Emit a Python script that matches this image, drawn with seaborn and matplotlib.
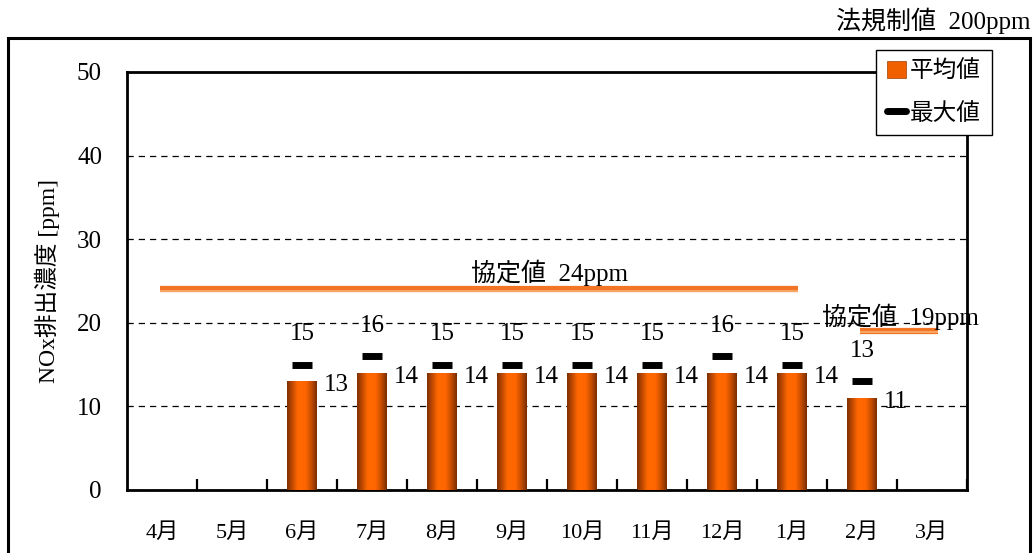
import numpy as np
import pandas as pd
import matplotlib
matplotlib.use("Agg")
import matplotlib.pyplot as plt
import seaborn as sns
from matplotlib.colors import LinearSegmentedColormap
from matplotlib.patches import Patch, Rectangle
from matplotlib.lines import Line2D

# ---- data ----
months = ["4月", "5月", "6月", "7月", "8月", "9月", "10月", "11月", "12月", "1月", "2月", "3月"]
data_months = ["6月", "7月", "8月", "9月", "10月", "11月", "12月", "1月", "2月"]
avg_values = [13, 14, 14, 14, 14, 14, 14, 14, 11]
max_values = [15, 16, 15, 15, 15, 15, 16, 15, 13]
agreement_values = [24, 19]
agreement_spans = [("4月", "1月"), ("2月", "3月")]
agreement_labels = ["協定値  24ppm", "協定値  19ppm"]
legal_limit_label = "法規制値  200ppm"
y_ticks = [0, 10, 20, 30, 40, 50]

sns.set_theme(style="white")
plt.rcParams["font.family"] = ["Liberation Serif", "Noto Sans CJK JP"]
plt.rcParams["axes.unicode_minus"] = False
for key in ["text.color", "axes.labelcolor", "xtick.color", "ytick.color"]:
    plt.rcParams[key] = "black"

fig = plt.figure(figsize=(10.36, 5.53), dpi=100)
ax = fig.add_axes([127 / 1036, 1 - 490 / 553, (967 - 127) / 1036, (490 - 72) / 553])

df = pd.DataFrame({"month": data_months, "avg": avg_values, "max": max_values})
pos = {m: i for i, m in enumerate(months)}
df["x"] = df["month"].map(pos)

sns.barplot(data=df, x="month", y="avg", order=months, color="#FF6600",
            width=0.42, ax=ax, zorder=3, edgecolor="none")

# cylindrical shading on each bar
cmap = LinearSegmentedColormap.from_list(
    "bar_shade",
    [(0.0, "#7E3000"), (0.15, "#B84600"), (0.35, "#FF6800"),
     (0.62, "#FF6600"), (0.82, "#C44C00"), (1.0, "#7A2E00")])
grad = np.linspace(0, 1, 64).reshape(1, -1)
for p in ax.patches:
    x0, y0 = p.get_x(), p.get_y()
    w, h = p.get_width(), p.get_height()
    if not np.isfinite(h) or h == 0:
        continue
    im = ax.imshow(grad, cmap=cmap, aspect="auto", extent=(x0, x0 + w, y0, y0 + h),
                   zorder=3.5, interpolation="bilinear")
    im.set_clip_path(p)

# maximum markers
ax.plot(df["x"], df["max"], ls="none", marker="_", ms=14.5, mew=5,
        color="black", zorder=4)

# value labels
for xi, a, m in zip(df["x"], df["avg"], df["max"]):
    ax.annotate(f"{m}", (xi, m), xytext=(0, 22), textcoords="offset points",
                ha="center", va="center", fontsize=18, zorder=5)
    ax.annotate(f"{a}", (xi + 0.21, a), xytext=(5, -3), textcoords="offset points",
                ha="left", va="center", fontsize=18, zorder=5)

# agreement limits
for val, (m0, m1) in zip(agreement_values, agreement_spans):
    xs = [pos[m0] - 0.03, pos[m1] + 0.08]
    ax.plot(xs, [val, val], color="#F27424", lw=4.5, solid_capstyle="butt", zorder=2.5)
    ax.plot(xs, [val - 0.15, val - 0.15], color="#F8B070", lw=1.2,
            solid_capstyle="butt", zorder=2.6)
ax.text(5.54, 26.0, agreement_labels[0], ha="center", va="center", fontsize=18, zorder=5)
ax.text(9.43, 20.7, agreement_labels[1], ha="left", va="center", fontsize=18, zorder=5)

# axes styling
ax.set_ylim(0, 50)
ax.set_xlim(-0.5, len(months) - 0.5)
ax.set_yticks(y_ticks)
ax.set_yticklabels([str(t) for t in y_ticks], fontsize=18)
ax.tick_params(axis="y", length=0, pad=18)
ax.yaxis.grid(True, linestyle=(0, (5, 4)), color="black", lw=0.9)
ax.set_axisbelow(True)

ax.set_xticks(np.arange(len(months)) + 0.5)
ax.set_xticklabels([])
ax.set_xticks(np.arange(len(months)), minor=True)
ax.set_xticklabels(months, minor=True, fontsize=16)
ax.tick_params(axis="x", which="major", direction="in", length=8, width=1.6,
               color="black", bottom=True)
ax.tick_params(axis="x", which="minor", length=0, pad=24)
ax.set_xlabel("")
ax.set_ylabel("NOx排出濃度 [ppm]", fontsize=17, labelpad=12)
for s in ax.spines.values():
    s.set_color("black")
    s.set_linewidth(2)

# legend
handles = [Patch(facecolor="#F06000", edgecolor="#A04000", lw=0.5),
           Line2D([], [], color="black", lw=5)]
fig.legend(handles, ["平均値", "最大値"], loc="upper left",
           bbox_to_anchor=(876 / 1036, 1 - 50 / 553), fontsize=17,
           frameon=True, fancybox=False, edgecolor="black", framealpha=1,
           handlelength=0.8, handletextpad=0.2, borderpad=0.45, labelspacing=0.85,
           borderaxespad=0)

# outer frame and limit note
fig.add_artist(Rectangle((8 / 1036, -0.05), (1030 - 8) / 1036, (553 - 38) / 553 + 0.05,
                         transform=fig.transFigure, fill=False, lw=2.2,
                         edgecolor="black"))
fig.text(1031 / 1036, 1 - 21 / 553, legal_limit_label, ha="right", va="center",
         fontsize=18)

fig.savefig("out.png", dpi=100)
